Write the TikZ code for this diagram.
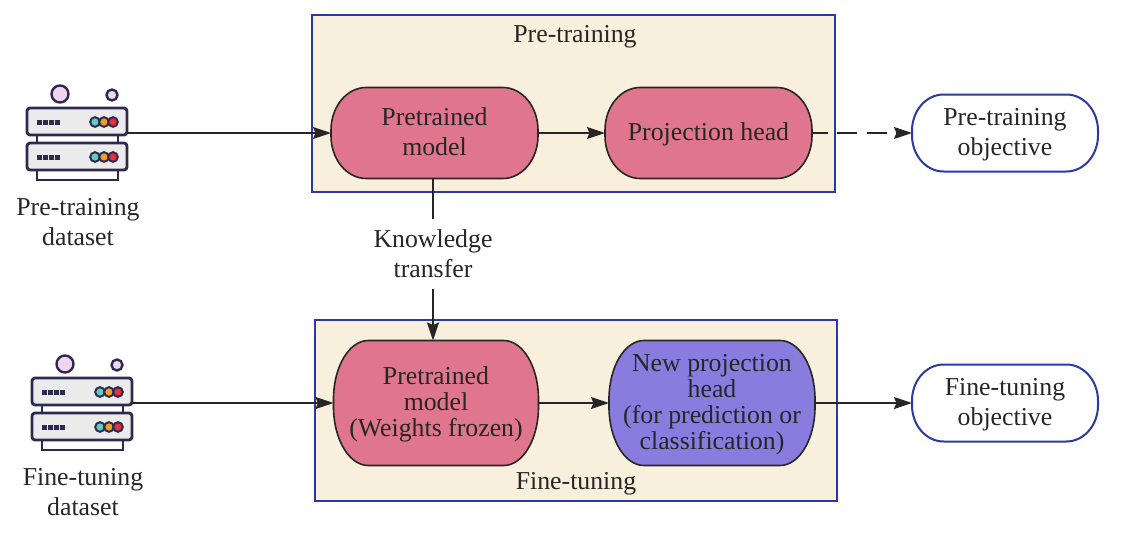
\documentclass[tikz,border=0pt]{standalone}
\usepackage{fontspec}
\setmainfont{Liberation Serif}
\usetikzlibrary{arrows.meta,positioning}

\definecolor{cream}{HTML}{F8F0DC}
\definecolor{navy}{HTML}{2B3A9C}
\definecolor{rosebox}{HTML}{E0758E}
\definecolor{violetbox}{HTML}{8A7CDE}
\definecolor{inkdark}{HTML}{2E2A4F}
\definecolor{lampteal}{HTML}{5FCFBF}
\definecolor{lamporange}{HTML}{F2A024}
\definecolor{lampred}{HTML}{E8303A}
\definecolor{bubble}{HTML}{F0D5EE}

% flat top and bottom, elliptical corners
\makeatletter
\pgfdeclareshape{softbox}{
	\inheritsavedanchors[from=rectangle]
	\inheritanchorborder[from=rectangle]
	\inheritanchor[from=rectangle]{center}
	\inheritanchor[from=rectangle]{north}
	\inheritanchor[from=rectangle]{south}
	\inheritanchor[from=rectangle]{east}
	\inheritanchor[from=rectangle]{west}
	\backgroundpath{
		\southwest \pgf@xa=\pgf@x \pgf@ya=\pgf@y
		\northeast \pgf@xb=\pgf@x \pgf@yb=\pgf@y
		\pgf@xc=\pgf@xb \advance\pgf@xc by -\pgf@xa \pgf@xc=0.17\pgf@xc
		\pgf@yc=\pgf@yb \advance\pgf@yc by -\pgf@ya \pgf@yc=0.47\pgf@yc
		\edef\sbrx{\the\pgf@xc}\edef\sbry{\the\pgf@yc}
		\edef\sbl{\the\pgf@xa}\edef\sbr{\the\pgf@xb}
		\edef\sbb{\the\pgf@ya}\edef\sbt{\the\pgf@yb}
		\pgfpathmoveto{\pgfpoint{\sbl+\sbrx}{\sbt}}
		\pgfpathlineto{\pgfpoint{\sbr-\sbrx}{\sbt}}
		\pgfpatharc{90}{0}{\sbrx and \sbry}
		\pgfpathlineto{\pgfpoint{\sbr}{\sbb+\sbry}}
		\pgfpatharc{0}{-90}{\sbrx and \sbry}
		\pgfpathlineto{\pgfpoint{\sbl+\sbrx}{\sbb}}
		\pgfpatharc{270}{180}{\sbrx and \sbry}
		\pgfpathlineto{\pgfpoint{\sbl}{\sbt-\sbry}}
		\pgfpatharc{180}{90}{\sbrx and \sbry}
		\pgfpathclose
	}
}
\makeatother

\tikzset{
	plainfont/.style={font=\fontsize{12.9}{15}\selectfont,text=black!85,align=center},
	tightfont/.style={font=\fontsize{12.9}{13}\selectfont,text=black!85,align=center},
	stagebox/.style={rectangle,draw=navy,fill=cream,line width=0.8pt,outer sep=0pt,inner sep=0pt},
	softnode/.style={softbox,outer sep=0pt,inner sep=0pt,minimum width=103.5pt,text depth=1pt},
	modelbox/.style={softnode,draw=black!85,fill=rosebox,line width=0.8pt,minimum height=45.5pt,plainfont},
	frozenbox/.style={softnode,draw=black!85,fill=rosebox,line width=0.8pt,minimum width=102.5pt,minimum height=62.5pt,tightfont},
	newheadbox/.style={softnode,draw=black!85,fill=violetbox,line width=0.8pt,minimum width=103pt,minimum height=62.5pt,tightfont},
	objectivebox/.style={softnode,draw=navy,fill=white,line width=1pt,minimum width=93pt,minimum height=38.5pt,plainfont},
	flow/.style={-{Stealth[length=9pt,width=6pt,inset=1.2pt]},draw=black!85,line width=0.8pt},
	server/.pic={
		\draw[inkdark,line width=1.4pt,fill=white] (10,26) rectangle (91,35);
		\draw[inkdark,line width=1.4pt,fill=white] (10,62) rectangle (91,72);
		\foreach \unity in {0,35} {
			\draw[inkdark,line width=1.4pt,fill=black!8,rounded corners=1.5pt] (0,\unity) rectangle (100,\unity+27);
			\foreach \dotx in {12,18,24,30}
				\fill[inkdark] (\dotx-2.5,\unity+11.5) rectangle (\dotx+2.5,\unity+16.5);
			\draw[inkdark,line width=1pt,fill=lampteal] (68,\unity+14) circle (4.8);
			\draw[inkdark,line width=1pt,fill=lamporange] (77,\unity+14) circle (4.8);
			\draw[inkdark,line width=1pt,fill=lampred] (86,\unity+14) circle (4.8);
		}
		\draw[inkdark,line width=1.2pt,fill=bubble] (33,-14) circle (8.5);
		\draw[inkdark,line width=1.2pt,fill=bubble] (85,-13) circle (5.5);
		\coordinate (-out) at (100,25);
	}
}

\begin{document}
\begin{tikzpicture}[x=0.5pt,y=-0.5pt,node distance=137pt,on grid]
	\useasboundingbox (0,0) rectangle (1132,546);

	\node[stagebox,minimum width=261.5pt,minimum height=88.5pt] (preStage) at (573.5,103.5) {};
	\node[stagebox,minimum width=261pt,minimum height=90.5pt] (fineStage) at (576,410.5) {};
	\node[plainfont] (preTitle) at (575,37) {Pre-training};
	\node[plainfont] (fineTitle) at (576,484) {Fine-tuning};

	\pic (preData) at (27,108) {server};
	\pic (fineData) at (32,378) {server};
	\node[plainfont] (preLabel) at (78,222) {Pre-training\\dataset};
	\node[plainfont] (fineLabel) at (83,492) {Fine-tuning\\dataset};

	\node[modelbox] (preModel) at (434.5,133) {Pretrained\\model};
	\node[modelbox] (preHead) [right=of preModel] {Projection head};
	\node[objectivebox] (preGoal) at (1005,133) {Pre-training\\objective};

	\node[frozenbox] (fineModel) at (436,403) {Pretrained\\model\\(Weights frozen)};
	\node[newheadbox] (fineHead) [right=138pt of fineModel] {New projection\\head\\(for prediction or\\classification)};
	\node[objectivebox] (fineGoal) at (1005,403) {Fine-tuning\\objective};

	\node[plainfont,inner xsep=2pt,inner ysep=5.5pt] (transfer) at (433,254) {Knowledge\\transfer};

	\coordinate (preStart) at (preData-out);
	\coordinate (fineStart) at (fineData-out);

	\draw[flow] (preStart) -- (preModel.west |- preStart);
	\draw[flow] (preModel) -- (preHead);
	\draw[flow,dash pattern=on 10pt off 4.7pt,dash phase=2pt] (preHead) -- (preGoal);
	\draw[flow] (fineStart) -- (fineModel.west |- fineStart);
	\draw[flow] (fineModel) -- (fineHead);
	\draw[flow] (fineHead) -- (fineGoal);
	\draw[draw=black!85,line width=0.8pt] (preModel.south -| transfer) -- (transfer.north);
	\draw[flow] (transfer.south) -- (fineModel.north -| transfer);
\end{tikzpicture}
\end{document}
